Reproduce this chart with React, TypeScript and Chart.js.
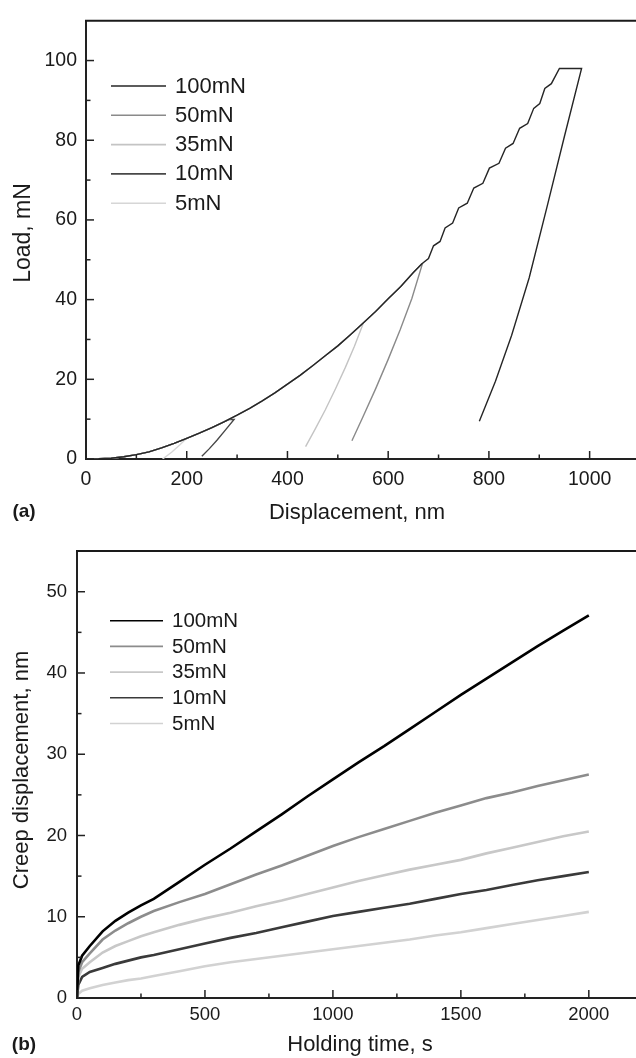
import React, { useEffect, useRef } from "react";
import { Chart, registerables } from "chart.js";

Chart.register(...registerables);

const FONT = '"Liberation Sans", Arial, Helvetica, sans-serif';
const seriesNames = ["100mN", "50mN", "35mN", "10mN", "5mN"];

// ---------- Panel (a): load vs displacement ----------
const xTicksA = [0, 200, 400, 600, 800, 1000];
const xMinorA = [100, 300, 500, 700, 900];
const yTicksA = [0, 20, 40, 60, 80, 100];
const yMinorA = [10, 30, 50, 70, 90];

const loadingDisp = [0, 25, 50, 75, 100, 125, 150, 175, 200, 225, 250, 275, 300, 325, 350, 375, 400, 425, 450, 475, 500, 525, 551, 575, 600, 625, 650, 667];
const loadingLoad = [0, 0.05, 0.2, 0.55, 1.1, 1.8, 2.8, 3.9, 5.2, 6.5, 7.9, 9.4, 11.0, 12.7, 14.6, 16.6, 18.8, 21.0, 23.4, 25.9, 28.4, 31.2, 34.2, 37.0, 40.2, 43.3, 46.8, 49.0];
const peakDispA = [667, 667, 551, 275, 200];

const tailDisp100 = [680, 690, 703, 713, 728, 740, 757, 770, 788, 801, 820, 833, 848, 861, 877, 889, 901, 911, 924, 940, 984, 950, 916, 880, 845, 813, 781];
const tailLoad100 = [50.3, 53.5, 54.6, 58, 59.2, 63, 64.2, 68, 69.2, 73, 74.2, 78, 79.2, 83, 84.2, 88, 89.2, 93, 94.2, 98, 98, 81, 63.6, 45.5, 31, 19.5, 9.5];
const tailDisp50 = [668, 647, 624, 600, 575, 550, 528];
const tailLoad50 = [49, 40.3, 32.5, 25.0, 17.6, 10.6, 4.6];
const tailDisp35 = [533, 515, 495, 475, 455, 436];
const tailLoad35 = [28.3, 23.0, 17.5, 12.3, 7.5, 3.1];
const tailDisp10 = [284, 294, 275, 260, 245, 230];
const tailLoad10 = [9.9, 9.9, 7.0, 4.7, 2.6, 0.7];
const tailDisp5 = [186, 170, 152];
const tailLoad5 = [3.5, 1.7, 0];

const colorsA = ["#262626", "#8a8a8a", "#c4c4c4", "#484848", "#d6d6d6"];

// ---------- Panel (b): creep displacement vs holding time ----------
const xTicksB = [0, 500, 1000, 1500, 2000];
const xMinorB = [250, 750, 1250, 1750];
const yTicksB = [0, 10, 20, 30, 40, 50];
const yMinorB = [5, 15, 25, 35, 45];

const holdTime = [0, 5, 20, 50, 100, 150, 200, 250, 300, 400, 500, 600, 700, 800, 900, 1000, 1100, 1200, 1300, 1400, 1500, 1600, 1700, 1800, 1900, 2000];
const creep100 = [0, 4.0, 5.2, 6.4, 8.2, 9.5, 10.5, 11.4, 12.2, 14.3, 16.4, 18.4, 20.5, 22.6, 24.8, 26.9, 29.0, 31.0, 33.1, 35.2, 37.3, 39.3, 41.3, 43.3, 45.2, 47.1];
const creep50 = [0, 3.2, 4.4, 5.5, 7.2, 8.3, 9.2, 10.0, 10.7, 11.8, 12.8, 14.0, 15.2, 16.3, 17.5, 18.7, 19.8, 20.8, 21.8, 22.8, 23.7, 24.6, 25.3, 26.1, 26.8, 27.5];
const creep35 = [0, 2.6, 3.6, 4.4, 5.6, 6.4, 7.0, 7.6, 8.1, 9.0, 9.8, 10.5, 11.3, 12.0, 12.8, 13.6, 14.4, 15.1, 15.8, 16.4, 17.0, 17.8, 18.5, 19.2, 19.9, 20.5];
const creep10 = [0, 1.6, 2.6, 3.2, 3.7, 4.2, 4.6, 5.0, 5.3, 6.0, 6.7, 7.4, 8.0, 8.7, 9.4, 10.1, 10.6, 11.1, 11.6, 12.2, 12.8, 13.3, 13.9, 14.5, 15.0, 15.5];
const creep5 = [0, 0.5, 0.9, 1.2, 1.6, 1.9, 2.2, 2.4, 2.7, 3.3, 3.9, 4.4, 4.8, 5.2, 5.6, 6.0, 6.4, 6.8, 7.2, 7.7, 8.1, 8.6, 9.1, 9.6, 10.1, 10.6];

const colorsB = ["#000000", "#8c8c8c", "#c8c8c8", "#3a3a3a", "#d2d2d2"];

const CANVAS_W = 664;

function zip(xs: number[], ys: number[]) {
  return xs.map((x, i) => ({ x, y: ys[i] }));
}

function buildSeriesA() {
  const tails = [
    [tailDisp100, tailLoad100],
    [tailDisp50, tailLoad50],
    [tailDisp35, tailLoad35],
    [tailDisp10, tailLoad10],
    [tailDisp5, tailLoad5],
  ];
  return tails.map(([td, tl], i) => {
    const pts = zip(loadingDisp, loadingLoad).filter((p) => p.x <= peakDispA[i]);
    return pts.concat(zip(td, tl));
  });
}

const decorPlugin = {
  id: "decor",
  afterDraw(chart: any, _args: any, o: any) {
    const { ctx, chartArea, scales } = chart;
    const xs = scales.x;
    const ys = scales.y;
    const { left, right, top, bottom } = chartArea;
    ctx.save();
    ctx.strokeStyle = "#1a1a1a";
    ctx.lineWidth = 2;
    ctx.beginPath();
    ctx.moveTo(left - 1, top);
    ctx.lineTo(right + 2, top);
    ctx.stroke();

    ctx.lineWidth = 1.5;
    ctx.strokeStyle = "#222";
    const tick = (vals: number[], len: number, horiz: boolean) => {
      vals.forEach((v) => {
        ctx.beginPath();
        if (horiz) {
          const px = xs.getPixelForValue(v);
          ctx.moveTo(px, bottom);
          ctx.lineTo(px, bottom - len);
        } else {
          const py = ys.getPixelForValue(v);
          ctx.moveTo(left, py);
          ctx.lineTo(left + len, py);
        }
        ctx.stroke();
      });
    };
    tick(o.xMajor, 8, true);
    tick(o.xMinor, 4.5, true);
    tick(o.yMajor, 8, false);
    tick(o.yMinor, 4.5, false);

    ctx.fillStyle = "#1a1a1a";
    ctx.textAlign = "center";
    ctx.textBaseline = "middle";
    ctx.font = `${o.xTitleSize}px ${FONT}`;
    ctx.fillText(o.xTitle, o.xTitleX, o.xTitleY);
    ctx.save();
    ctx.translate(o.yTitleX, o.yTitleY);
    ctx.rotate(-Math.PI / 2);
    ctx.font = `${o.yTitleSize}px ${FONT}`;
    ctx.fillText(o.yTitle, 0, 0);
    ctx.restore();

    ctx.font = `bold ${o.panelSize}px ${FONT}`;
    ctx.fillText(o.panel, o.panelX, o.panelY);

    ctx.textAlign = "left";
    ctx.font = `${o.legendSize}px ${FONT}`;
    chart.data.datasets.forEach((ds: any, i: number) => {
      const y = o.legendY + i * o.legendGap;
      ctx.strokeStyle = ds.borderColor;
      ctx.lineWidth = o.legendLineWidth;
      ctx.beginPath();
      ctx.moveTo(o.legendX1, y);
      ctx.lineTo(o.legendX2, y);
      ctx.stroke();
      ctx.fillStyle = "#1a1a1a";
      ctx.fillText(ds.label, o.legendTextX, y + 0.5);
    });
    ctx.restore();
  },
};

function makeOptions(cfg: any) {
  const tickFont = { family: FONT, size: cfg.tickSize };
  const plain = (v: any) => String(v);
  return {
    animation: false,
    responsive: false,
    maintainAspectRatio: false,
    layout: { padding: { left: 0, top: cfg.top, right: CANVAS_W - cfg.right, bottom: 0 } },
    plugins: {
      legend: { display: false },
      tooltip: { enabled: false },
      decor: cfg.decor,
    },
    scales: {
      x: {
        type: "linear",
        min: cfg.xMin,
        max: cfg.xMax,
        afterBuildTicks: (s: any) => {
          s.ticks = cfg.decor.xMajor.map((v: number) => ({ value: v }));
        },
        afterFit: (s: any) => {
          s.height = cfg.canvasH - cfg.bottom;
        },
        grid: { display: true, drawOnChartArea: false, drawTicks: false },
        border: { display: true, color: "#222", width: 2 },
        ticks: { font: tickFont, color: "#1a1a1a", padding: cfg.xPad, maxRotation: 0, autoSkip: false, callback: plain },
      },
      y: {
        type: "linear",
        min: cfg.yMin,
        max: cfg.yMax,
        afterBuildTicks: (s: any) => {
          s.ticks = cfg.decor.yMajor.map((v: number) => ({ value: v }));
        },
        afterFit: (s: any) => {
          s.width = cfg.left;
        },
        grid: { display: true, drawOnChartArea: false, drawTicks: false },
        border: { display: true, color: "#222", width: 2 },
        ticks: { font: tickFont, color: "#1a1a1a", padding: cfg.yPad, autoSkip: false, callback: plain },
      },
    },
  };
}

export default function App() {
  const refA = useRef<HTMLCanvasElement | null>(null);
  const refB = useRef<HTMLCanvasElement | null>(null);

  useEffect(() => {
    const seriesA = buildSeriesA();
    const chartA = new Chart(refA.current as HTMLCanvasElement, {
      type: "scatter",
      data: {
        datasets: seriesA.map((pts, i) => ({
          label: seriesNames[i],
          data: pts,
          showLine: true,
          borderColor: colorsA[i],
          backgroundColor: colorsA[i],
          borderWidth: 1.4,
          pointRadius: 0,
          tension: 0,
        })),
      },
      options: makeOptions({
        top: 11,
        left: 86,
        right: 640,
        bottom: 459,
        canvasH: 530,
        xMin: 0,
        xMax: 1100,
        yMin: 0,
        yMax: 110,
        tickSize: 19.5,
        xPad: 9,
        yPad: 9,
        decor: {
          xMajor: xTicksA,
          xMinor: xMinorA,
          yMajor: yTicksA,
          yMinor: yMinorA,
          xTitle: "Displacement, nm",
          xTitleSize: 22,
          xTitleX: 357,
          xTitleY: 513,
          yTitle: "Load, mN",
          yTitleSize: 23,
          yTitleX: 24,
          yTitleY: 233,
          panel: "(a)",
          panelSize: 19,
          panelX: 24,
          panelY: 512,
          legendSize: 22,
          legendX1: 111,
          legendX2: 166,
          legendTextX: 175,
          legendY: 86,
          legendGap: 29.3,
          legendLineWidth: 1.6,
        },
      }) as any,
      plugins: [decorPlugin as any],
    });

    const creep = [creep100, creep50, creep35, creep10, creep5];
    const chartB = new Chart(refB.current as HTMLCanvasElement, {
      type: "scatter",
      data: {
        datasets: creep.map((vals, i) => ({
          label: seriesNames[i],
          data: zip(holdTime, vals),
          showLine: true,
          borderColor: colorsB[i],
          backgroundColor: colorsB[i],
          borderWidth: 2.6,
          pointRadius: 0,
          tension: 0,
        })),
      },
      options: makeOptions({
        top: 12,
        left: 77,
        right: 640,
        bottom: 468,
        canvasH: 528,
        xMin: 0,
        xMax: 2200,
        yMin: 0,
        yMax: 55,
        tickSize: 18.5,
        xPad: 6,
        yPad: 10,
        decor: {
          xMajor: xTicksB,
          xMinor: xMinorB,
          yMajor: yTicksB,
          yMinor: yMinorB,
          xTitle: "Holding time, s",
          xTitleSize: 22,
          xTitleX: 360,
          xTitleY: 515,
          yTitle: "Creep displacement, nm",
          yTitleSize: 22,
          yTitleX: 22,
          yTitleY: 240,
          panel: "(b)",
          panelSize: 19,
          panelX: 24,
          panelY: 515,
          legendSize: 20.5,
          legendX1: 110,
          legendX2: 163,
          legendTextX: 172,
          legendY: 90.7,
          legendGap: 25.7,
          legendLineWidth: 1.6,
        },
      }) as any,
      plugins: [decorPlugin as any],
    });

    return () => {
      chartA.destroy();
      chartB.destroy();
    };
  }, []);

  return (
    <div
      style={{
        position: "absolute",
        left: 0,
        top: 0,
        width: 636,
        height: 1058,
        overflow: "hidden",
        background: "#ffffff",
      }}
    >
      <canvas
        ref={refA}
        width={CANVAS_W}
        height={530}
        style={{ position: "absolute", left: 0, top: 0, width: CANVAS_W, height: 530 }}
      />
      <canvas
        ref={refB}
        width={CANVAS_W}
        height={528}
        style={{ position: "absolute", left: 0, top: 530, width: CANVAS_W, height: 528 }}
      />
    </div>
  );
}
